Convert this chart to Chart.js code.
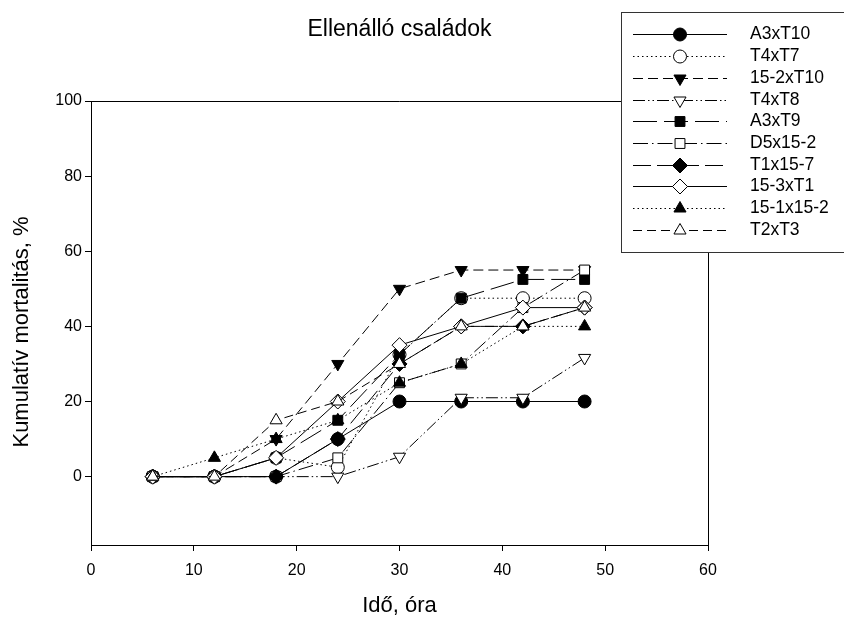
<!DOCTYPE html>
<html>
<head>
<meta charset="utf-8">
<script src="https://cdn.jsdelivr.net/npm/chart.js@4/dist/chart.umd.min.js"></script>
<style>
html,body{margin:0;padding:0;background:#fff;}
canvas{display:block;}
</style>
</head>
<body>
<canvas id="c" width="844" height="619"></canvas>
<script>
const chartTitle = "Ellenálló családok";
const xTitle = "Idő, óra";
const yTitle = "Kumulatív mortalitás, %";
const times = [6, 12, 18, 24, 30, 36, 42, 48];
const seriesNames = ["A3xT10","T4xT7","15-2xT10","T4xT8","A3xT9","D5x15-2","T1x15-7","15-3xT1","15-1x15-2","T2xT3"];
const A3xT10   = [0, 0, 0, 10, 20, 20, 20, 20];
const T4xT7    = [0, 0, 5, 2.5, 32.5, 47.5, 47.5, 47.5];
const s15_2xT10 = [0, 0, 10, 30, 50, 55, 55, 55];
const T4xT8    = [0, 0, 0, 0, 5.3, 21, 21, 31.6];
const A3xT9    = [0, 0, 5, 15, 32.5, 47.5, 52.5, 52.5];
const D5x15_2  = [0, 0, 0, 5, 25, 30, 45, 55];
const T1x15_7  = [0, 0, 0, 10, 30, 40, 40, 45];
const s15_3xT1 = [0, 0, 5, 20, 35, 40, 45, 45];
const s15_1x15_2 = [0, 5, 10, 15, 25, 30, 40, 40];
const T2xT3    = [0, 0, 15, 20, 30, 40, 40, 45];
const seriesValues = [A3xT10, T4xT7, s15_2xT10, T4xT8, A3xT9, D5x15_2, T1x15_7, s15_3xT1, s15_1x15_2, T2xT3];
const yTickValues = [0, 20, 40, 60, 80, 100];
const xTickValues = [0, 10, 20, 30, 40, 50, 60];

// styles
const markerStyle = ["circle","circle","triangle","triangle","rect","rect","rectRot","rectRot","triangle","triangle"];
const markerRot   = [0,0,180,180,0,0,0,0,0,0];
const markerFill  = ["#000","#fff","#000","#fff","#000","#fff","#000","#fff","#000","#fff"];
const markerRadius= [6.5,6.5,7,7,7,7,7.5,7.5,7,7];
const dashes = [[], [1.5,3], [10,5], [12,3,1.5,3,1.5,3], [24,7], [15,4,1.5,4], [18,6], [], [1.5,3], [9,5]];

Chart.defaults.font.family = "'Liberation Sans', Arial, sans-serif";
Chart.defaults.font.size = 16;
Chart.defaults.color = "#000";

const datasets = seriesNames.map((name, i) => ({
  label: name,
  data: times.map((t, k) => ({x: t, y: seriesValues[i][k]})),
  borderColor: "#000",
  borderWidth: 1,
  borderDash: dashes[i],
  tension: 0,
  fill: false,
  pointStyle: markerStyle[i],
  pointRotation: markerRot[i],
  pointRadius: markerRadius[i],
  pointBackgroundColor: markerFill[i],
  pointBorderColor: "#000",
  pointBorderWidth: 1,
  order: seriesNames.length - 1 - i
}));

const decor = {
  id: "decor",
  beforeDatasetsDraw(chart) {
    const ctx = chart.ctx, a = chart.chartArea;
    ctx.save();
    ctx.strokeStyle = "#000";
    ctx.lineWidth = 1;
    ctx.beginPath();
    ctx.moveTo(a.left, a.top + 0.5);
    ctx.lineTo(a.right + 0.5, a.top + 0.5);
    ctx.lineTo(a.right + 0.5, a.bottom);
    ctx.stroke();
    ctx.restore();
  },
  afterDraw(chart) {
    const ctx = chart.ctx, a = chart.chartArea;
    ctx.save();
    ctx.fillStyle = "#000";
    ctx.textAlign = "center";
    ctx.textBaseline = "middle";
    ctx.font = "23px 'Liberation Sans', Arial, sans-serif";
    ctx.fillText(chartTitle, (a.left + a.right) / 2, 30);
    ctx.font = "22px 'Liberation Sans', Arial, sans-serif";
    ctx.fillText(xTitle, (a.left + a.right) / 2, 606);
    ctx.save();
    ctx.translate(22, 332);
    ctx.rotate(-Math.PI / 2);
    ctx.fillText(yTitle, 0, 0);
    ctx.restore();

    // legend
    const lx = 621, ly = 12, lb = 252;
    ctx.fillStyle = "#fff";
    ctx.fillRect(lx, ly, 844 - lx, lb - ly);
    ctx.strokeStyle = "#333";
    ctx.lineWidth = 1;
    ctx.strokeRect(lx + 0.5, ly + 0.5, 844 - lx + 10, lb - ly);
    ctx.font = "17.5px 'Liberation Sans', Arial, sans-serif";
    ctx.textAlign = "left";
    ctx.textBaseline = "middle";
    seriesNames.forEach((name, i) => {
      const y = Math.round(34.3 + i * 21.74) + 0.5;
      ctx.strokeStyle = "#000";
      ctx.setLineDash(dashes[i]);
      ctx.beginPath();
      ctx.moveTo(633, y);
      ctx.lineTo(727, y);
      ctx.stroke();
      ctx.setLineDash([]);
      ctx.fillStyle = markerFill[i];
      ctx.strokeStyle = "#000";
      Chart.helpers.drawPoint(ctx, {pointStyle: markerStyle[i], rotation: markerRot[i], radius: markerRadius[i], borderWidth: 1}, 680, y);
      ctx.fillStyle = "#000";
      ctx.fillText(name, 750, y);
    });
    ctx.restore();
  }
};

new Chart(document.getElementById("c"), {
  type: "line",
  data: { datasets },
  options: {
    responsive: false,
    devicePixelRatio: 1,
    animation: false,
    events: [],
    layout: { padding: { left: 0, right: 136, top: 101, bottom: 0 } },
    plugins: { legend: { display: false }, title: { display: false }, tooltip: { enabled: false } },
    scales: {
      x: {
        type: "linear",
        min: 0, max: 60,
        afterFit: s => { s.height = 74; },
        afterBuildTicks: s => { s.ticks = xTickValues.map(v => ({value: v})); },
        grid: { drawOnChartArea: false, drawTicks: true, tickLength: 6, color: "#000" },
        border: { display: true, color: "#000", width: 1 },
        ticks: { padding: 10, maxRotation: 0, autoSkip: false }
      },
      y: {
        type: "linear",
        min: -18.2, max: 100,
        afterFit: s => { s.width = 91; },
        afterBuildTicks: s => { s.ticks = yTickValues.map(v => ({value: v})); },
        grid: { drawOnChartArea: false, drawTicks: true, tickLength: 6, color: "#000" },
        border: { display: true, color: "#000", width: 1 },
        ticks: { padding: 3, autoSkip: false }
      }
    }
  },
  plugins: [decor]
});
</script>
</body>
</html>
